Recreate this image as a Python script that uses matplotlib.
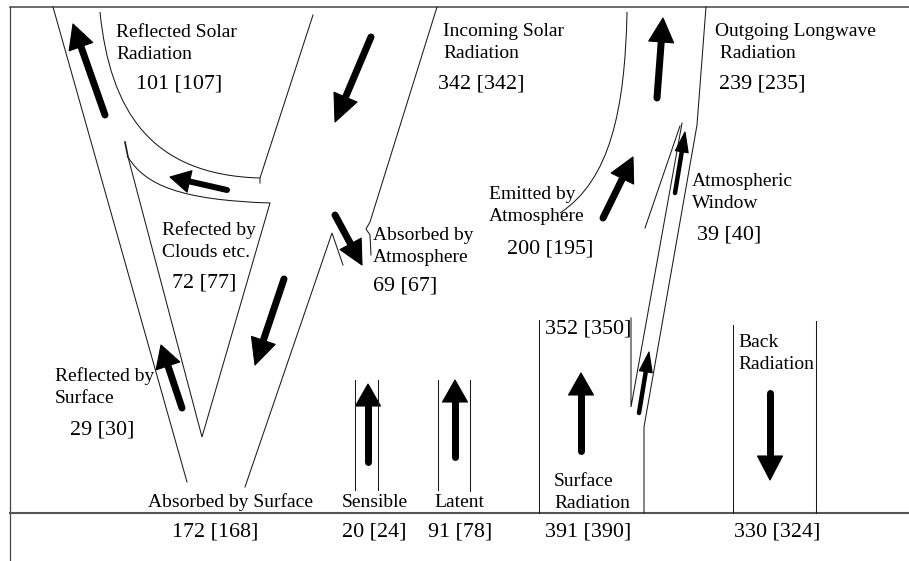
import numpy as np
import matplotlib.pyplot as plt
from matplotlib.path import Path
from matplotlib.patches import PathPatch, Polygon

# Global energy flows (W m-2): new estimate [older estimate]
label_text = ["Reflected Solar\nRadiation", "Incoming Solar\nRadiation",
              "Outgoing Longwave\n Radiation", "Refected by\nClouds etc.",
              "Absorbed by\nAtmosphere", "Emitted by\nAtmosphere",
              "Atmospheric\nWindow", "Reflected by\nSurface",
              "Absorbed by Surface", "Sensible", "Latent",
              "Surface\nRadiation", "Back\nRadiation"]
value_now = [101, 342, 239, 72, 69, 200, 39, 29, 172, 20, 91, 391, 352, 330]
value_old = [107, 342, 235, 77, 67, 195, 40, 30, 168, 24, 78, 390, 350, 324]

# layout in pixel coordinates (baseline of first line)
label_xy = [(116, 37), (443, 36), (715, 36), (162, 235), (373, 240), (489, 199),
            (692, 186), (55, 381), (148, 507), (342, 507), (434, 507),
            (554, 486), (738, 347)]
value_xy = [(136, 88), (438, 88), (719, 88), (172, 287), (373, 290), (507, 253),
            (697, 239), (70, 434), (172, 537), (342, 537), (428, 537),
            (545, 537), (545, 333), (734, 537)]

FONT = ['Liberation Serif', 'DejaVu Serif']
INK = '#1a1a1a'

fig = plt.figure(figsize=(9.09, 5.61), dpi=100)
ax = fig.add_axes([0, 0, 1, 1])
ax.set_xlim(0, 909)
ax.set_ylim(561, 0)
ax.axis('off')


def line(pts, lw=0.75, color=INK):
    xs, ys = zip(*pts)
    ax.plot(xs, ys, color=color, lw=lw, solid_joinstyle='miter')


def curve(p0, p1, p2, p3, lw=0.75):
    path = Path([p0, p1, p2, p3], [Path.MOVETO, Path.CURVE4, Path.CURVE4, Path.CURVE4])
    ax.add_patch(PathPatch(path, fill=False, lw=lw, ec=INK))


def arrow(tail, tip, w=7, hw=25, hl=25):
    t = np.array(tail, float)
    p = np.array(tip, float)
    d = p - t
    u = d / np.hypot(*d)
    n = np.array([-u[1], u[0]])
    base = p - u * hl
    ax.plot([t[0], base[0] + u[0] * 2], [t[1], base[1] + u[1] * 2],
            color='k', lw=w * 0.72, solid_capstyle='round')
    ax.add_patch(Polygon([p, base + n * hw / 2, base - n * hw / 2], closed=True,
                         fc='k', ec='k', lw=0.8, joinstyle='round'))


# frame
line([(10, 7), (909, 7)], lw=1.2, color='#555555')
line([(10, 7), (10, 561)], lw=0.9, color='#444444')
line([(10, 513), (909, 513)], lw=1.5, color='#555555')

# shortwave paths
line([(53, 7), (187, 482)])
curve((100, 12), (110, 110), (150, 175), (260, 178))
line([(260, 183), (260, 178), (313, 15)])
line([(125, 142), (128, 157)], lw=1.2)
curve((128, 157), (145, 185), (180, 200), (270, 203))
line([(128, 157), (202, 437), (270, 203)])
line([(437, 7), (370, 222), (366, 229), (370, 235), (371, 255)])
line([(245, 487), (332, 233), (343, 265)])

# longwave paths
curve((627, 12), (625, 110), (610, 180), (560, 213))
line([(706, 7), (697, 125), (644, 427), (644, 513)])
line([(631, 318), (631, 407), (682, 123)])
line([(680, 126), (645, 228)])
line([(539, 320), (539, 513)])
line([(355, 380), (355, 490)])
line([(378, 380), (378, 490)])
line([(438, 380), (438, 490)])
line([(470, 380), (470, 491)])
line([(733, 325), (733, 513)])
line([(816, 321), (816, 513)])

# arrows
arrow((105, 115), (73, 24), hl=24)
arrow((371, 37), (335, 122), hl=27)
arrow((227, 190), (170, 177), w=6, hw=22, hl=20)
arrow((335, 215), (362, 265), hw=24, hl=24)
arrow((284, 279), (255, 365), hl=26)
arrow((182, 408), (161, 345), hl=22)
arrow((368, 462), (368, 384), hl=22)
arrow((455, 457), (455, 380), hl=22)
arrow((581, 451), (581, 373), hl=22)
arrow((770, 393), (770, 480), hl=24)
arrow((657, 98), (663, 18), hl=24)
arrow((603, 218), (633, 157), hl=24)
arrow((675, 193), (685, 132), w=4.5, hw=13, hl=20)
arrow((639, 413), (649, 352), w=4.5, hw=13, hl=20)

# texts
for txt, (x, y) in zip(label_text, label_xy):
    for i, part in enumerate(txt.split("\n")):
        ax.text(x, y + 22 * i, part, fontsize=14, family=FONT,
                ha='left', va='baseline', color='k')

for a, b, (x, y) in zip(value_now, value_old, value_xy):
    ax.text(x, y, f"{a} [{b}]", fontsize=15.8, family=FONT,
            ha='left', va='baseline', color='k')

fig.savefig("out.png", dpi=100)
